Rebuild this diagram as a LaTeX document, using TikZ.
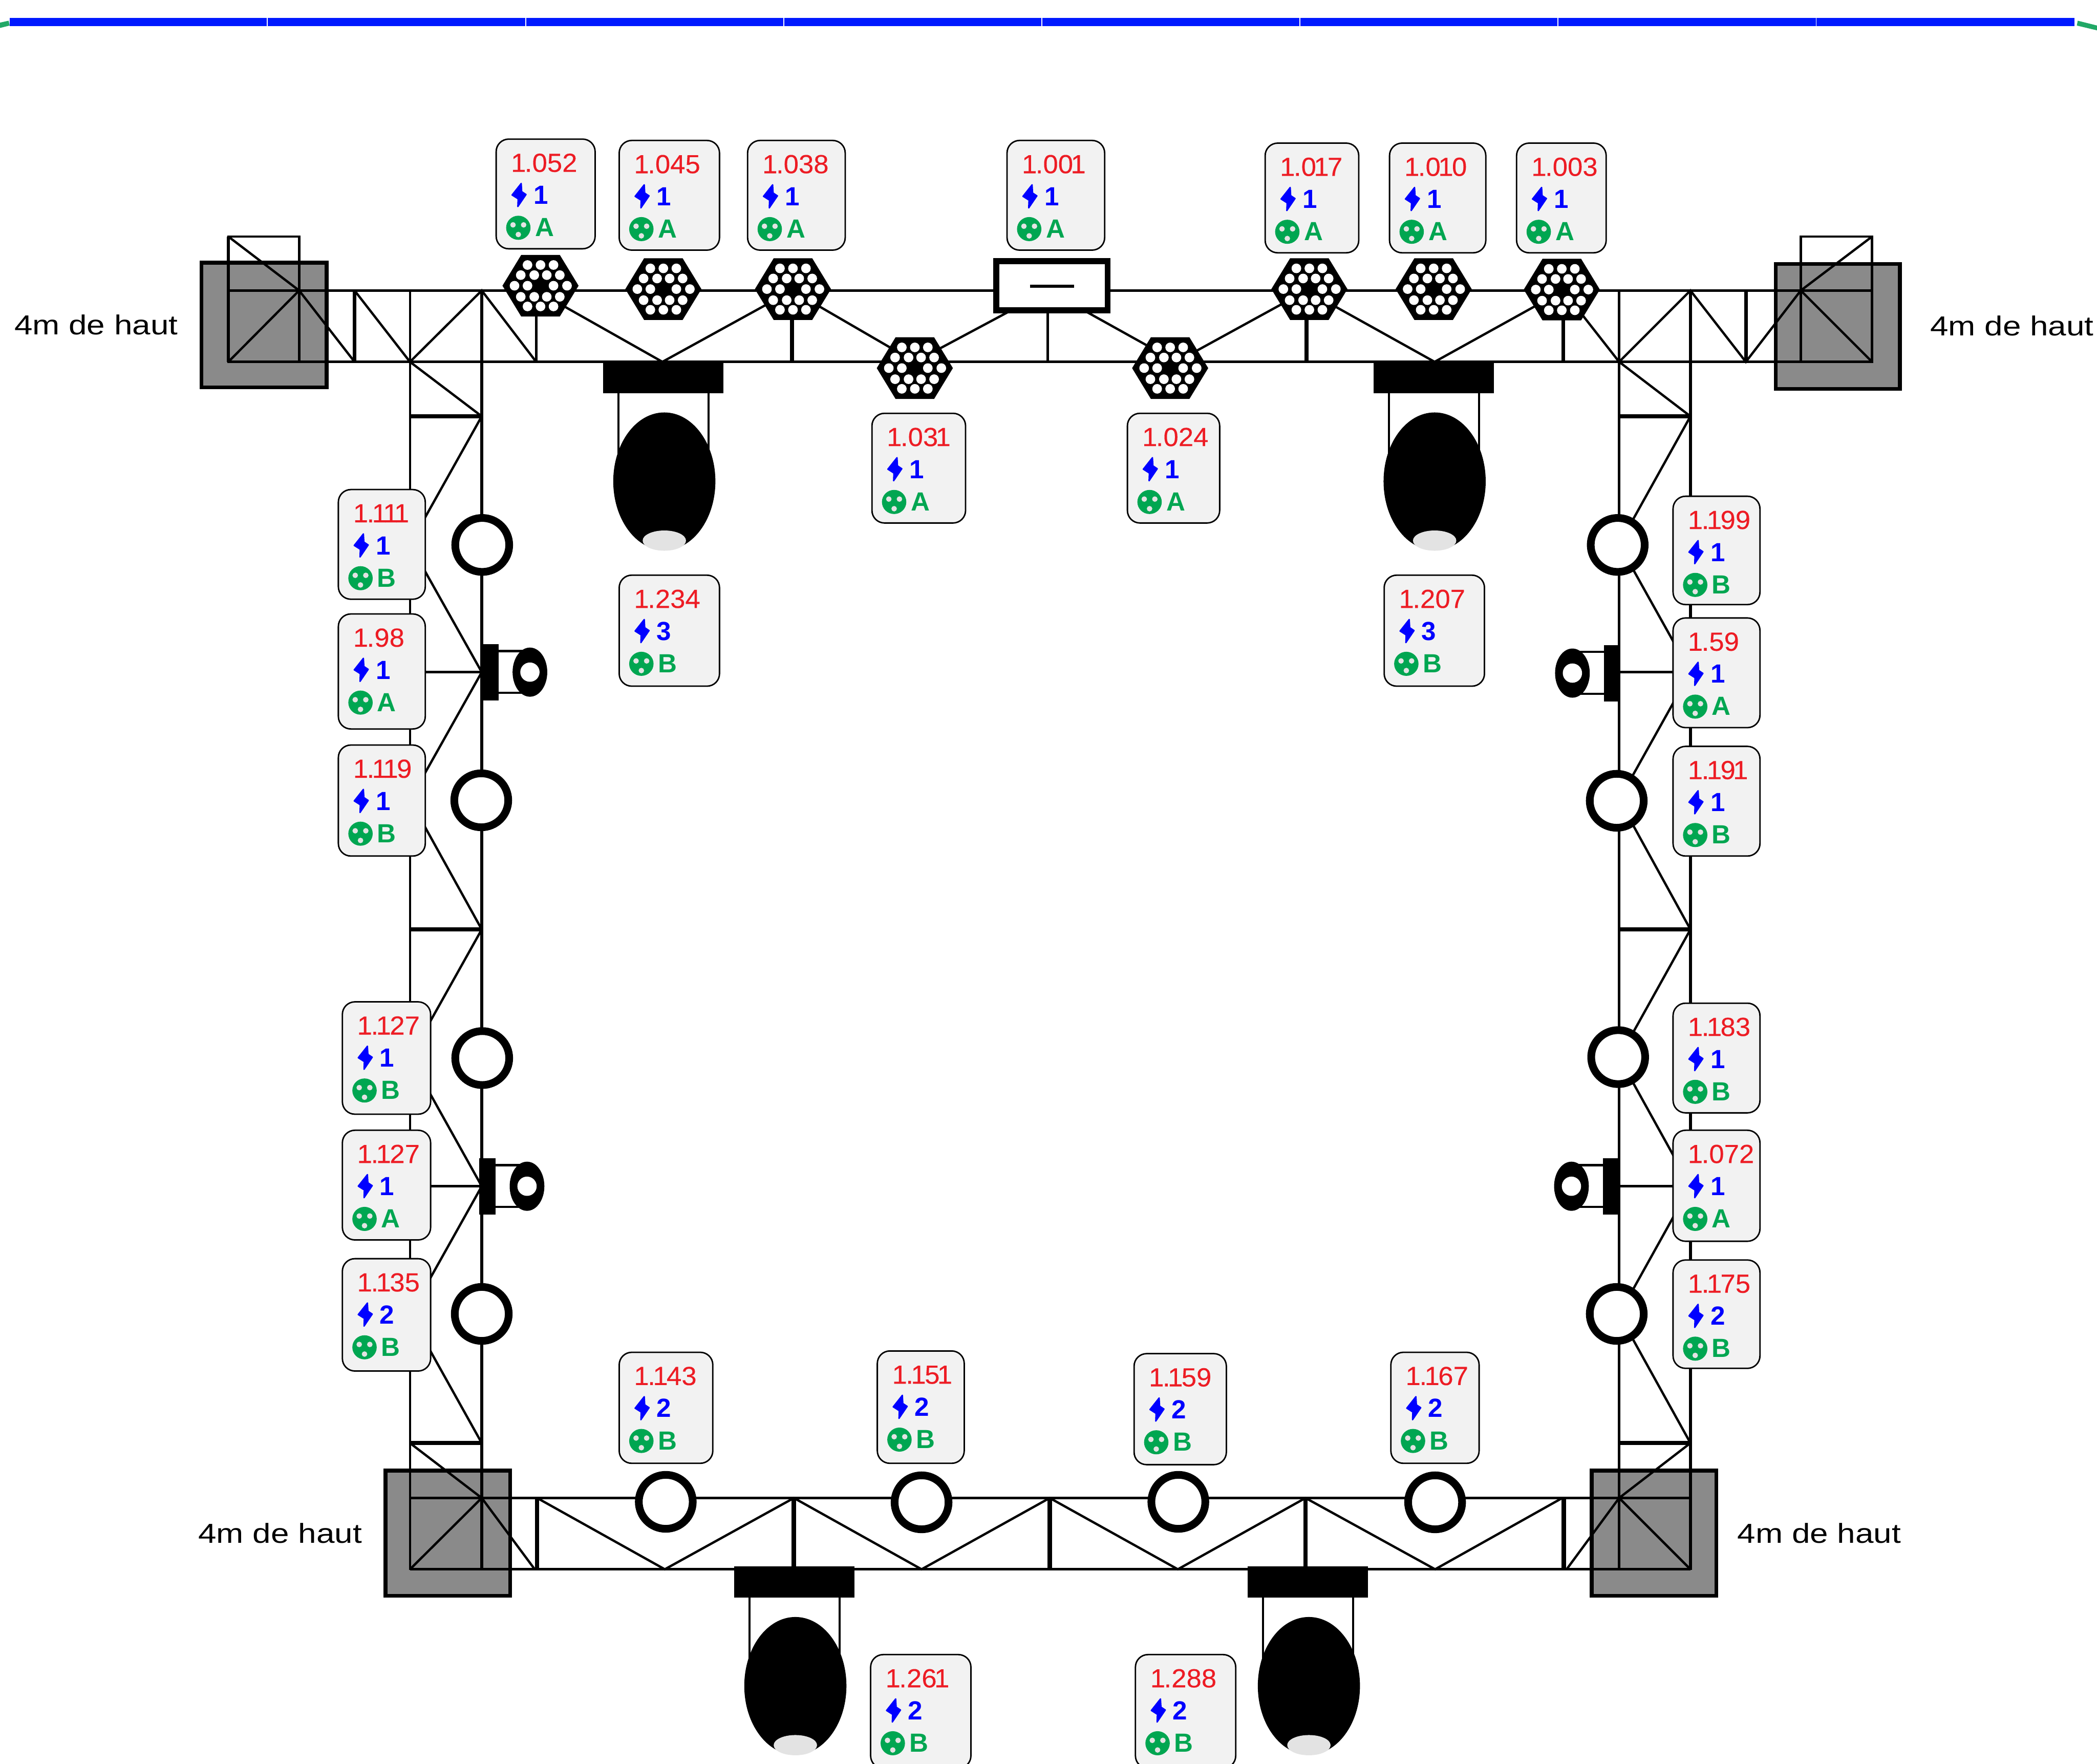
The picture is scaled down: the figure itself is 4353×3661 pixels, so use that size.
\documentclass[tikz,border=0pt]{standalone}
\usepackage{fontspec}
\setmainfont{Liberation Sans}
\newfontfamily\wfont{Liberation Sans}[FakeStretch=1.19]
\newfontfamily\nfont{Liberation Sans}[FakeStretch=1.03,FakeBold=0.12]
\XeTeXinterchartokenstate=1
\XeTeXcharclass`1=5
\XeTeXinterchartoks 5 0 = {\kern-.05em}
\XeTeXinterchartoks 0 5 = {\kern-.09em}
\XeTeXinterchartoks 5 5 = {\kern-.15em}
\definecolor{rednum}{HTML}{ED1C24}
\definecolor{bluenum}{HTML}{0000FF}
\definecolor{greenlet}{HTML}{00A651}
\definecolor{towergray}{HTML}{8A8A8A}
\definecolor{boxgray}{HTML}{F2F2F2}
\definecolor{lensgray}{HTML}{E3E3E3}
\definecolor{edgegreen}{HTML}{21A866}
\definecolor{topblue}{HTML}{0019FF}
\tikzset{
  thinl/.style={line width=1.2pt,black},
  chord/.style={line width=1.4pt,black},
  thickv/.style={line width=1.9pt,black},
  thickb/.style={line width=2.25pt,black},
  thickh/.style={line width=2.25pt,black},
  tower/.style={draw=black,line width=2pt,fill=towergray},
  parcan/.style={draw=black,line width=4pt,fill=white},
  infobox/.style={draw=black,line width=.75pt,fill=boxgray,rounded corners=6.5pt},
  numtxt/.style={inner sep=0,anchor=base west,font=\fontsize{13.6}{16}\selectfont\nfont,text=rednum},
  bolttxt/.style={inner sep=0,anchor=base west,font=\fontsize{13.6}{16}\selectfont\bfseries,text=bluenum},
  socktxt/.style={inner sep=0,anchor=base west,font=\fontsize{13.6}{16}\selectfont\bfseries,text=greenlet},
  heightlab/.style={inner sep=0,anchor=base west,font=\fontsize{14.25}{17}\selectfont\wfont},
}
\newcommand\hexlamp[2]{%
  \begin{scope}[shift={(#1,#2)}]
    \fill[black] (-79,0)--(-40,-64)--(40,-64)--(79,0)--(40,64)--(-40,64)--cycle;
    \foreach \hx in {-27,0,27}{\fill[white] (\hx,-43) circle[radius=10];\fill[white] (\hx,43) circle[radius=10];}
    \foreach \hx in {-41,-13,13,40}{\fill[white] (\hx,-22) circle[radius=10];\fill[white] (\hx,23) circle[radius=10];}
    \foreach \hx in {-54,-27,27,55}{\fill[white] (\hx,0) circle[radius=10];}
  \end{scope}}
\newcommand\moverdown[2]{% bar top at y=#2, centred on x=#1
  \begin{scope}[shift={(#1,#2)}]
    \fill[black] (-125,0) rectangle (125,65);
    \draw[thinl] (-93,60)--(-93,200);
    \draw[thinl] (94,60)--(94,200);
    \fill[black] (2,248) ellipse[x radius=106,y radius=143];
    \fill[lensgray] (2,371) ellipse[x radius=45,y radius=21];
  \end{scope}}
\newcommand\sidelamp[3]{% bar inner x=#1, y=#2, direction #3
  \begin{scope}[shift={(#1,#2)},xscale=#3]
    \fill[black] (0,-58) rectangle (34,59);
    \draw[thinl] (30,-44)--(85,-44);
    \draw[thinl] (30,43)--(85,43);
    \fill[black] (99,0) ellipse[x radius=36,y radius=51];
    \fill[white] (99,0) ellipse[x radius=20,y radius=20];
  \end{scope}}
\newcommand\lab[7]{%
  \pgfmathsetmacro\bx{#1*2.7761}\pgfmathsetmacro\by{#2*2.7761}%
  \pgfmathsetmacro\bw{(#3-#1)*2.7761}\pgfmathsetmacro\bh{(#4-#2)*2.7761}%
  \begin{scope}[shift={(\bx,\by)}]
    \draw[infobox] (0,0) rectangle (\bw,\bh);
    \node[numtxt] (num-#1-#2) at (30,68) {#5};
    \fill[bluenum,draw=bluenum,line width=.7pt,line join=round] (52,92)--(53,109)--(62,115)--(45,140)--(45.6,124)--(33,116)--cycle;
    \node[bolttxt] (pow-#1-#2) at (77,135) {#6};
    \fill[greenlet] (46,184) ellipse[x radius=25.3,y radius=25];
    \fill[lensgray] (35,178) circle[radius=5.7];
    \fill[lensgray] (57,178) circle[radius=5.7];
    \fill[lensgray] (46,198) circle[radius=5.7];
    \node[socktxt] (sock-#1-#2) at (80,202) {#7};
  \end{scope}}
\begin{document}
\begin{tikzpicture}[x=0.25pt,y=-0.25pt]
\useasboundingbox (0,0) rectangle (4353,3661);
% top bar
\fill[topblue] (20,37) rectangle (4306,54);
\foreach \g in {555,1091,1627,2163,2698,3234,3770}{\fill[white] (\g-1,36) rectangle (\g+1,55);}
\fill[edgegreen] (0,47)--(18,43)--(20,53)--(0,58)--cycle;
\fill[edgegreen] (4313,43)--(4353,53)--(4353,63)--(4311,53)--cycle;
% towers
\draw[tower] (418,545) rectangle (678,804);
\draw[tower] (3686,548) rectangle (3944,807);
\draw[tower] (800,3052) rectangle (1059,3312);
\draw[tower] (3304,3052) rectangle (3563,3312);
% upper truss
\draw[chord] (474,603)--(3886,603);
\draw[chord] (474,751)--(3886,751);
\draw[thinl] (474,491) rectangle (621,751);
\draw[thinl] (3738,491) rectangle (3886,751);
\draw[chord] (474,491)--(474,751) (3886,491)--(3886,751);
\draw[thinl] (474,491)--(621,603)--(474,751);
\draw[thinl] (621,603)--(736,751);
\draw[thinl] (736,603)--(851,751)--(1000,603)--(1113,751);
\draw[thinl] (1113,603)--(1375,751)--(1644,603)--(1899,751)--(2176,603)--(2442,751)--(2712,603)--(2978,751)--(3245,603)--(3361,751)--(3509,603)--(3624,751)--(3738,603)--(3886,491);
\draw[thinl] (3738,603)--(3886,751);
\draw[thickv] (736,603)--(736,751) (3624,603)--(3624,751) (1644,603)--(1644,751) (2712,603)--(2712,751) (3245,603)--(3245,751);
\draw[chord] (1113,603)--(1113,751) (2175,603)--(2175,751);
% side trusses
\draw[thinl] (851,603)--(851,3258);
\draw[chord] (1000,603)--(1000,3258);
\draw[chord] (3361,603)--(3361,3258);
\draw[chord] (3509,603)--(3509,3258);
\draw[thinl] (851,751)--(1000,864)--(851,1130)--(1000,1395)--(851,1660)--(1000,1929)--(851,2195)--(1000,2462)--(851,2728)--(1000,2995);
\draw[thinl] (3361,751)--(3509,864)--(3361,1130)--(3509,1395)--(3361,1660)--(3509,1929)--(3361,2195)--(3509,2462)--(3361,2728)--(3509,2995);
\draw[thickh] (851,864)--(1000,864) (851,1929)--(1000,1929) (851,2995)--(1000,2995);
\draw[thickh] (3361,864)--(3509,864) (3361,1929)--(3509,1929) (3361,2995)--(3509,2995);
\draw[thinl] (851,1395)--(1000,1395) (3361,1395)--(3509,1395);
\draw[chord] (851,2462)--(1000,2462) (3361,2462)--(3509,2462);
% lower truss
\draw[chord] (851,3109)--(3509,3109);
\draw[chord] (851,3257)--(3509,3257);
\draw[thinl] (851,2995)--(1000,3109)--(851,3257);
\draw[thinl] (1000,3109)--(1110,3257);
\draw[thinl] (1115,3109)--(1380,3257)--(1648,3109)--(1913,3257)--(2179,3109)--(2445,3257)--(2710,3109)--(2979,3257)--(3243,3109);
\draw[thinl] (3252,3257)--(3361,3109)--(3509,2995);
\draw[thinl] (3361,3109)--(3509,3257);
\draw[thickb] (1115,3109)--(1115,3257) (1648,3109)--(1648,3257) (2179,3109)--(2179,3257) (2710,3109)--(2710,3257) (3246,3109)--(3246,3257);
% centre unit
\draw[line width=3pt,fill=white] (2068,542) rectangle (2299,644);
\draw[line width=1.5pt] (2138,594)--(2230,594);
% hex lamps
\hexlamp{1122}{593}\hexlamp{1377}{600}\hexlamp{1646}{600}\hexlamp{1899}{764}
\hexlamp{2429}{764}\hexlamp{2718}{600}\hexlamp{2976}{600}\hexlamp{3242}{601}
% moving heads
\moverdown{1377}{751}\moverdown{2976}{751}\moverdown{1649}{3251}\moverdown{2715}{3251}
% par cans
\foreach \cx/\cy in {1001/1131,999/1661,1001/2196,1000/2727,3358/1131,3356/1662,3359/2194,3356/2727,1382/3117,1913/3118,2446/3117,2979/3118}
  {\draw[parcan] (\cx,\cy) circle[radius=56];}
% side lamps
\sidelamp{1001}{1395}{1}\sidelamp{995}{2462}{1}\sidelamp{3363}{1397}{-1}\sidelamp{3361}{2462}{-1}
% height labels
\node[heightlab] (h1) at (29,695) {4m de haut};
\node[heightlab] (h2) at (4006,697) {4m de haut};
\node[heightlab] (h3) at (411,3202) {4m de haut};
\node[heightlab] (h4) at (3606,3202) {4m de haut};
% info boxes
\lab{371}{104}{445}{186}{1.052}{1}{A}
\lab{463}{105}{538}{187}{1.045}{1}{A}
\lab{559}{105}{632}{187}{1.038}{1}{A}
\lab{753}{105}{826}{187}{1.001}{1}{A}
\lab{946}{107}{1016}{189}{1.017}{1}{A}
\lab{1039}{107}{1111}{189}{1.010}{1}{A}
\lab{1134}{107}{1201}{189}{1.003}{1}{A}
\lab{652}{309}{722}{391}{1.031}{1}{A}
\lab{843}{309}{912}{391}{1.024}{1}{A}
\lab{253}{366}{318}{448}{1.111}{1}{B}
\lab{253}{459}{318}{545}{1.98}{1}{A}
\lab{253}{557}{318}{640}{1.119}{1}{B}
\lab{256}{749}{322}{833}{1.127}{1}{B}
\lab{256}{845}{322}{927}{1.127}{1}{A}
\lab{256}{941}{322}{1025}{1.135}{2}{B}
\lab{463}{430}{538}{513}{1.234}{3}{B}
\lab{1035}{430}{1110}{513}{1.207}{3}{B}
\lab{1251}{371}{1316}{452}{1.199}{1}{B}
\lab{1251}{462}{1316}{544}{1.59}{1}{A}
\lab{1251}{558}{1316}{640}{1.191}{1}{B}
\lab{1251}{750}{1316}{832}{1.183}{1}{B}
\lab{1251}{845}{1316}{928}{1.072}{1}{A}
\lab{1251}{942}{1316}{1023}{1.175}{2}{B}
\lab{463}{1011}{533}{1094}{1.143}{2}{B}
\lab{656}{1010}{721}{1094}{1.151}{2}{B}
\lab{848}{1012}{917}{1095}{1.159}{2}{B}
\lab{1040}{1011}{1106}{1094}{1.167}{2}{B}
\lab{651}{1237}{726}{1322}{1.261}{2}{B}
\lab{849}{1237}{924}{1322}{1.288}{2}{B}
\end{tikzpicture}
\end{document}
